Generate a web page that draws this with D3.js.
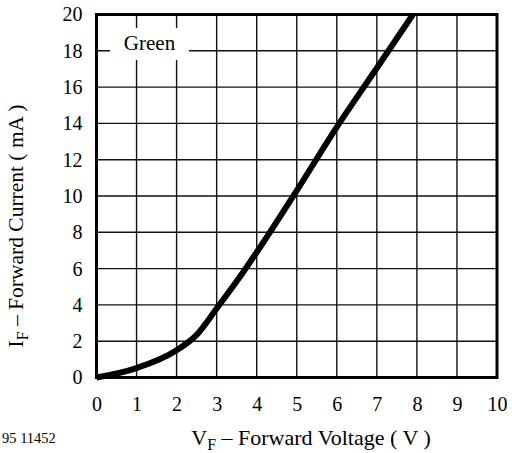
<!DOCTYPE html>
<html>
<head>
<meta charset="utf-8">
<script src="https://cdn.jsdelivr.net/npm/d3@7"></script>
<style>
  html, body { margin: 0; padding: 0; background: #fff; }
  svg { display: block; }
</style>
</head>
<body>
<svg id="chart" width="512" height="453"></svg>
<script>
// Forward current vs forward voltage, green LED
const voltage = [0, 1, 2, 2.5, 3, 3.5, 4, 5, 6, 7, 7.9];
const current = [0, 0.52, 1.5, 2.35, 3.8, 5.3, 6.9, 10.3, 13.8, 17.05, 20.0];
const xTicks = [0, 1, 2, 3, 4, 5, 6, 7, 8, 9, 10];
const yTicks = [0, 2, 4, 6, 8, 10, 12, 14, 16, 18, 20];
const seriesName = "Green";
const figureId = "95 11452";

const SERIF = '"Liberation Serif", "Times New Roman", serif';
const svg = d3.select("#chart");
const plotLeft = 96.5, plotTop = 14.5, plotRight = 497, plotBottom = 377.5;

const x = d3.scaleLinear().domain([0, 10]).range([plotLeft, plotRight]);
const y = d3.scaleLinear().domain([0, 20]).range([plotBottom, plotTop]);

// grid lines
const grid = svg.append("g").attr("stroke", "#111").attr("stroke-width", 1.4);
grid.selectAll("line.v").data(xTicks.slice(1, -1)).join("line")
  .attr("class", "v")
  .attr("x1", d => x(d)).attr("x2", d => x(d))
  .attr("y1", plotTop).attr("y2", plotBottom);
grid.selectAll("line.h").data(yTicks.slice(1, -1)).join("line")
  .attr("class", "h")
  .attr("x1", plotLeft).attr("x2", plotRight)
  .attr("y1", d => y(d)).attr("y2", d => y(d));

// label box knocks out the grid behind it
svg.append("rect")
  .attr("x", 110).attr("y", 28).attr("width", 79).attr("height", 32)
  .attr("fill", "#fff");
svg.append("text")
  .attr("x", 149.5).attr("y", 50)
  .attr("text-anchor", "middle")
  .attr("font-size", 21)
  .style("font-family", SERIF)
  .text(seriesName);

// characteristic curve
const line = d3.line()
  .x((d, i) => x(voltage[i]))
  .y(d => y(d))
  .curve(d3.curveMonotoneX);
svg.append("path")
  .datum(current)
  .attr("d", line)
  .attr("fill", "none")
  .attr("stroke", "#000")
  .attr("stroke-width", 6)
  .attr("stroke-linejoin", "round");

// frame
svg.append("rect")
  .attr("x", plotLeft).attr("y", plotTop)
  .attr("width", plotRight - plotLeft).attr("height", plotBottom - plotTop)
  .attr("fill", "none").attr("stroke", "#000").attr("stroke-width", 3);

// axes (labels only)
const xAxis = svg.append("g")
  .attr("transform", `translate(0,${plotBottom})`)
  .call(d3.axisBottom(x).tickValues(xTicks).tickSize(0).tickPadding(19).tickFormat(d3.format("d")));
const yAxis = svg.append("g")
  .attr("transform", `translate(${plotLeft},0)`)
  .call(d3.axisLeft(y).tickValues(yTicks).tickSize(0).tickPadding(14).tickFormat(d3.format("d")));
[xAxis, yAxis].forEach(g => {
  g.select(".domain").remove();
  g.attr("font-family", null).attr("font-size", null);
  g.selectAll("text")
    .style("font-family", SERIF)
    .attr("font-size", 20)
    .attr("fill", "#000");
});

// axis titles
const xt = svg.append("text")
  .attr("x", 311).attr("y", 445)
  .attr("text-anchor", "middle")
  .attr("font-size", 22)
  .style("font-family", SERIF);
xt.append("tspan").text("V");
xt.append("tspan").attr("font-size", 16).attr("dy", 5).text("F");
xt.append("tspan").attr("dy", -5).text(" \u2013 Forward Voltage ( V )");

const yt = svg.append("text")
  .attr("transform", "translate(23,226) rotate(-90)")
  .attr("text-anchor", "middle")
  .attr("font-size", 21.5)
  .style("font-family", SERIF);
yt.append("tspan").text("I");
yt.append("tspan").attr("font-size", 16).attr("dy", 5).text("F");
yt.append("tspan").attr("dy", -5).text(" \u2013 Forward Current ( mA )");

svg.append("text")
  .attr("x", 2).attr("y", 443)
  .attr("font-size", 14.5)
  .style("font-family", SERIF)
  .text(figureId);
</script>
</body>
</html>
